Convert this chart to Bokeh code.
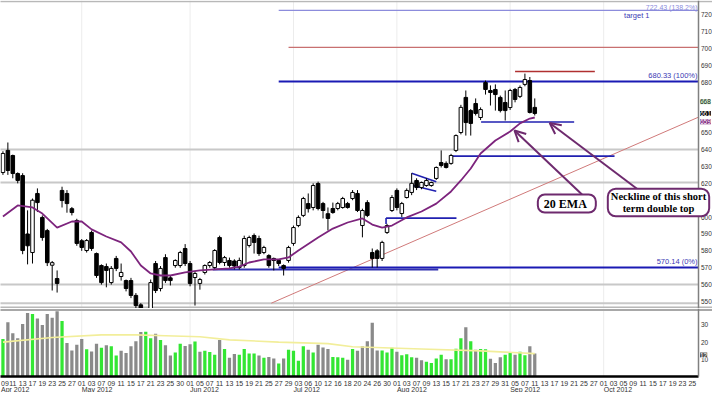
from bokeh.plotting import figure
from bokeh.layouts import column
from bokeh.models import Range1d, Label, Arrow, OpenHead
from bokeh.embed import file_html
from bokeh.resources import INLINE
from bokeh.core.properties import value

# ---------------- data ----------------
opens = [626.4, 639.5, 636.5, 625.8, 624.6, 590.0, 579.0, 614.0, 599.8, 592.0,
         571.5, 563.6, 615.8, 614.0, 605.0, 598.0, 586.0, 580.2, 590.9, 578.4,
         571.3, 570.7, 561.2, 575.5, 564.8, 562.4, 562.4, 553.6, 548.0, 545.0,
         545.0, 572.5, 557.7, 576.0, 564.0, 571.3, 571.3, 581.4, 572.5, 564.2,
         560.7, 567.2, 571.3, 570.1, 587.9, 573.1, 574.3, 574.0, 570.1, 571.3,
         583.2, 589.1, 587.3, 579.0, 577.2, 575.5, 574.3, 571.3, 574.3, 584.4,
         595.0, 601.0, 608.0, 605.7, 619.9, 608.0, 602.0, 605.1, 605.1, 605.7,
         608.0, 611.0, 614.0, 595.0, 608.6, 579.0, 580.0, 575.5, 590.9, 603.9,
         615.8, 602.1, 611.6, 614.6, 621.7, 617.5, 618.7, 618.7, 622.9, 632.3,
         631.8, 631.8, 639.5, 650.1, 670.9, 663.1, 667.3, 659.0, 679.7, 675.0,
         675.6, 670.9, 667.9, 664.9, 675.6, 671.5, 678.6, 680.9, 665.0]
highs = [639.0, 644.2, 637.0, 626.5, 626.0, 604.0, 611.0, 617.0, 601.0, 593.0,
         574.0, 568.4, 618.0, 616.0, 606.0, 599.0, 587.0, 587.0, 592.0, 579.0,
         572.0, 572.5, 571.0, 577.0, 572.5, 563.0, 564.0, 555.0, 549.0, 546.0,
         563.0, 574.0, 571.0, 578.0, 565.4, 575.0, 580.0, 584.0, 574.0, 568.0,
         564.0, 572.0, 574.0, 581.0, 589.0, 577.0, 576.0, 575.0, 576.0, 589.0,
         589.0, 590.3, 589.0, 583.0, 578.0, 576.0, 575.0, 572.0, 583.0, 595.0,
         601.0, 612.0, 614.0, 620.0, 621.0, 609.0, 605.7, 608.6, 609.0, 612.0,
         609.0, 616.0, 616.0, 605.0, 610.0, 581.4, 581.0, 586.0, 596.0, 613.0,
         617.0, 609.0, 617.0, 626.0, 623.0, 621.0, 623.0, 621.0, 630.0, 639.5,
         633.0, 637.5, 649.0, 666.5, 675.0, 664.0, 670.3, 665.0, 680.9, 678.0,
         678.6, 672.0, 675.0, 676.0, 676.5, 678.0, 685.0, 683.0, 670.3]
lows = [625.0, 625.0, 623.0, 620.0, 578.0, 572.0, 572.5, 603.0, 586.0, 571.0,
        556.5, 555.3, 605.7, 602.6, 601.0, 583.0, 580.0, 579.0, 580.0, 564.0,
        560.0, 558.4, 560.0, 568.0, 562.4, 556.0, 552.0, 546.0, 536.0, 535.0,
        543.0, 555.0, 556.0, 561.0, 559.5, 570.0, 570.0, 571.0, 559.0, 547.6,
        557.0, 566.0, 570.0, 569.0, 572.0, 571.0, 570.0, 569.0, 569.0, 570.0,
        582.0, 578.4, 577.0, 578.0, 570.0, 568.4, 571.0, 565.4, 573.0, 583.0,
        594.0, 600.0, 602.7, 604.0, 604.0, 599.2, 592.1, 602.0, 604.0, 605.0,
        605.0, 610.0, 603.0, 588.0, 600.0, 570.1, 570.14, 574.0, 590.0, 603.0,
        604.0, 600.0, 611.0, 613.0, 616.0, 616.5, 618.0, 618.0, 622.0, 629.4,
        628.8, 631.0, 638.5, 649.0, 648.3, 648.3, 660.2, 657.5, 672.6, 666.1,
        663.1, 662.0, 657.2, 663.5, 668.0, 670.5, 677.5, 661.4, 660.2]
closes = [637.7, 627.6, 625.8, 621.7, 580.2, 583.0, 610.0, 608.6, 587.9, 573.0,
          573.0, 560.7, 609.8, 608.0, 602.7, 584.4, 582.0, 586.1, 581.4, 565.4,
          561.2, 568.4, 569.6, 569.6, 567.2, 557.7, 553.6, 547.6, 540.0, 538.0,
          561.2, 556.5, 569.6, 562.4, 562.4, 574.3, 579.0, 572.5, 560.7, 566.6,
          563.0, 571.3, 573.1, 580.2, 573.1, 576.0, 571.3, 571.0, 574.3, 587.3,
          587.9, 585.0, 578.4, 582.0, 571.3, 574.3, 572.5, 569.6, 582.0, 593.8,
          599.8, 611.0, 605.0, 618.7, 605.1, 603.9, 599.2, 602.7, 608.0, 611.0,
          605.7, 614.6, 603.9, 603.9, 601.0, 575.5, 575.5, 585.0, 595.0, 611.6,
          605.7, 608.0, 615.8, 620.0, 617.5, 620.5, 621.7, 620.5, 629.4, 630.6,
          629.4, 636.5, 648.3, 665.0, 656.0, 655.5, 661.4, 663.7, 675.6, 673.8,
          672.6, 663.1, 663.1, 675.0, 669.7, 676.8, 681.5, 662.0, 661.4]

volumes = [21.8, 31.5, 25.1, 22.2, 30.5, 36.9, 36.4, 33.7, 30.0, 36.4,
           34.2, 37.9, 32.2, 19.5, 15.1, 18.5, 21.8, 15.8, 14.5, 19.1,
           16.7, 18.2, 17.6, 12.2, 14.9, 13.6, 17.6, 20.5, 25.8, 26.0,
           22.3, 24.9, 21.2, 18.2, 12.2, 14.0, 19.1, 17.8, 18.7, 20.4,
           14.4, 14.9, 14.2, 12.7, 21.2, 16.0, 10.9, 13.1, 12.7, 16.0,
           13.3, 13.3, 12.2, 10.9, 11.4, 10.5, 7.6, 10.5, 15.5, 14.9,
           9.1, 17.6, 15.5, 14.0, 18.5, 16.8, 16.0, 11.4, 11.2, 10.9,
           9.7, 16.0, 14.9, 17.6, 20.5, 31.3, 15.1, 15.1, 14.0, 16.7,
           14.4, 12.4, 12.9, 11.2, 10.9, 9.5, 8.6, 7.8, 10.5, 12.7,
           10.0, 10.0, 16.2, 22.3, 28.7, 20.5, 15.5, 16.0, 15.8, 10.3,
           7.8, 11.2, 12.6, 13.6, 12.6, 14.4, 12.4, 17.6, 13.3]
vol_green = [1, 0, 0, 0, 0, 0, 1, 0, 0, 0,
             0, 0, 1, 0, 0, 0, 0, 1, 0, 0,
             1, 0, 1, 1, 0, 0, 0, 0, 0, 1,
             1, 0, 1, 0, 0, 1, 1, 0, 0, 1,
             0, 1, 1, 1, 0, 1, 0, 0, 1, 1,
             1, 1, 0, 1, 0, 0, 1, 0, 1, 1,
             1, 1, 0, 1, 0, 0, 0, 1, 1, 1,
             0, 1, 0, 0, 0, 0, 0, 1, 1, 1,
             0, 1, 1, 1, 0, 0, 1, 1, 1, 1,
             0, 1, 1, 1, 0, 1, 0, 1, 1, 0,
             0, 0, 1, 1, 0, 1, 1, 0, 0]

vol_ma_x = [0, 10, 20, 27, 33, 40, 46, 56, 66, 71, 85, 97, 108]
vol_ma_y = [20.0, 22.7, 24.2, 24.2, 23.7, 23.1, 21.3, 20.0, 19.1, 17.3, 16.0, 14.9, 13.3]

ema_x = [0, 3, 6, 8, 11, 14, 16, 18, 21, 24, 26, 28, 30, 32, 34, 37, 40, 43, 46, 48,
         50, 53, 56, 58, 60, 64, 67, 70, 73, 75, 77, 79, 82, 85, 88, 91, 93, 95, 97,
         100, 103, 105, 107, 108]
ema_y = [600.3, 606.9, 605.7, 602.1, 593.8, 597.4, 597.4, 592.7, 588.5, 585.0, 579.6,
         571.3, 566.6, 565.4, 565.4, 567.2, 568.4, 569.0, 569.6, 570.7, 573.1, 574.9,
         574.9, 576.1, 580.2, 587.9, 593.2, 596.8, 599.2, 595.6, 593.8, 595.0, 599.8,
         603.3, 608.0, 615.2, 621.7, 628.8, 637.7, 645.4, 650.7, 655.5, 658.4, 659.0]

day_ticks = list(range(0, 141, 2))
day_labels = ["09", "11", "13", "17", "19", "23", "25", "27",
              "01", "03", "07", "09", "11", "15", "17", "21", "23", "25", "30",
              "01", "05", "07", "11", "13", "15", "19", "21", "25", "27", "29",
              "03", "06", "10", "12", "16", "18", "20", "24", "26", "30",
              "01", "03", "07", "09", "13", "15", "17", "21", "23", "27", "29", "31",
              "05", "07", "11", "13", "17", "19", "21", "25", "27",
              "01", "03", "05", "09", "11", "15", "17", "19", "23", "25"]
month_ticks = [-5, 16, 38, 59, 80, 103, 122]
month_labels = ["Apr 2012", "May 2012", "Jun 2012", "Jul 2012", "Aug 2012", "Sep 2012", "Oct 2012"]

price_ticks = [720, 710, 700, 690, 680, 650, 640, 630, 620, 600, 590, 580, 570, 560, 550]
vol_ticks = [30, 20, 10]
grey_levels = [640.0, 620.5, 560.0, 549.0]
marker_green = 668.4

# drawn study lines
fib_top = 722.43
fib_100 = 680.33
fib_0 = 570.14
red_level = 700.5
short_red = 686.3
neck_level = 656.3
mid_level = 636.1
low_level = 599.4
base_level = 569.0
trend_x = [54.5, 141.25]
trend_y = [549.0, 659.2]
pen_up_x, pen_up_y = [83.0, 88.0], [626.0, 620.9]
pen_lo_x, pen_lo_y = [82.6, 88.0], [619.2, 615.3]

# ---------------- layout constants (pixels of the reference) ----------------
X0, DX = 2.5, 5.03            # x of trading day 0, px per trading day
Y680, PY = 81.0, 1.688        # y of 680.33, px per dollar
SX = 698.0 / 713.0            # horizontal squeeze so the right scale fits
VY0, VPY = 376.0, 1.72        # volume zero line and px per unit (own figure coords)

def ix(px):                   # reference x pixel -> trading-day index
    return (px - X0) / DX

def fx(px):                   # own x pixel -> trading-day index
    return ix(px / SX)

def pr(py):                   # y pixel -> price
    return fib_100 - (py - Y680) / PY

def vv(py):                   # y pixel -> volume
    return (VY0 - py) / VPY

XR = Range1d(ix(0), fx(712))
XE = ix(713)                  # right edge of the chart body
SANS = value("Liberation Sans")
SERIF = "Liberation Serif"
PURPLE = "#6e2a6e"

def panel(height, yr):
    f = figure(width=712, height=height, x_range=XR, y_range=yr,
               output_backend="svg", toolbar_location=None,
               x_axis_location=None, y_axis_location=None,
               min_border_left=0, min_border_right=0, min_border_top=0, min_border_bottom=0)
    f.grid.visible = False
    f.outline_line_color = None
    f.background_fill_color = "white"
    f.border_fill_color = "white"
    return f

p = panel(308, Range1d(pr(308), pr(0)))

for m in month_ticks[1:]:
    p.segment([m], [pr(308)], [m], [pr(0)], line_color="#ececec", line_width=1)
p.segment([ix(-5)] * len(grey_levels), grey_levels, [XE] * len(grey_levels), grey_levels,
          line_color="#c8c8c8", line_width=2)
p.segment([ix(-5)], [pr(1)], [fx(713)], [pr(1)], line_color="#b8b8b8", line_width=1.5)
p.segment([ix(-5)], [pr(307)], [fx(713)], [pr(307)], line_color="#b8b8b8", line_width=2)

p.line(trend_x, trend_y, line_color="#d07a7a", line_width=1)

p.segment([56.0], [fib_top], [XE], [fib_top], line_color="#8c8cdc", line_width=1.2)
p.segment([58.0], [red_level], [XE], [red_level], line_color="#c87070", line_width=1.2)
p.segment([104.0], [short_red], [120.2], [short_red], line_color="#b03030", line_width=1.5)
p.segment([56.0], [fib_100], [XE], [fib_100], line_color="#1a1ab4", line_width=2)
p.segment([56.0], [fib_0], [XE], [fib_0], line_color="#1a1ab4", line_width=2)
p.segment([42.6], [base_level], [88.4], [base_level], line_color="#3030b0", line_width=2)
p.segment([97.1, 91.0, 77.8], [neck_level, mid_level, low_level],
          [116.0, 124.2, 92.1], [neck_level, mid_level, low_level],
          line_color="#2020b0", line_width=1.6)
p.segment([77.8], [low_level], [77.8], [low_level - 3.5], line_color="#2020b0", line_width=1.6)
p.line(pen_up_x, pen_up_y, line_color="#2020b0", line_width=1.6)
p.line(pen_lo_x, pen_lo_y, line_color="#2020b0", line_width=1.6)

idx = list(range(len(opens)))
p.segment(idx, highs, idx, lows, line_color="black", line_width=1)
p.vbar(x=idx, bottom=[min(o, c) for o, c in zip(opens, closes)],
       top=[max(o, c) for o, c in zip(opens, closes)], width=0.72,
       fill_color=["white" if c >= o else "black" for o, c in zip(opens, closes)],
       line_color="black", line_width=1)

p.line(ema_x, ema_y, line_color="#7d247d", line_width=1.8)

p.text(x=[ix(712)], y=[pr(10.5)], text=["722.43 (138.2%)"], text_align="right",
       text_font=SANS, text_font_size="7px", text_color="#8c8cdc")
p.text(x=[ix(637)], y=[pr(19)], text=["target 1"], text_align="left",
       text_font=SANS, text_font_size="7.5px", text_color="#3a3ab4")
p.text(x=[ix(712)], y=[pr(79.5)], text=["680.33 (100%)"], text_align="right",
       text_font=SANS, text_font_size="7.5px", text_color="#3a3ab4")
p.text(x=[ix(712)], y=[pr(265.5)], text=["570.14 (0%)"], text_align="right",
       text_font=SANS, text_font_size="7.5px", text_color="#3a3ab4")

p.add_layout(Arrow(x_start=ix(594), y_start=pr(194), x_end=ix(525), y_end=pr(130),
                   line_color=PURPLE, line_width=2,
                   end=OpenHead(size=11, line_color=PURPLE, line_width=2)))
p.add_layout(Arrow(x_start=ix(662), y_start=pr(197), x_end=ix(561), y_end=pr(122.5),
                   line_color=PURPLE, line_width=2,
                   end=OpenHead(size=11, line_color=PURPLE, line_width=2)))

# right border and price scale
p.segment([XE], [pr(308)], [XE], [pr(0)], line_color="#808080", line_width=1.5)
p.text(x=[fx(700.5)] * len(price_ticks), y=price_ticks, text=[str(t) for t in price_ticks],
       text_baseline="middle", text_font=SANS, text_font_size="6.5px", text_color="#333333")
p.add_layout(Label(x=fx(699.5), y=marker_green, text=str(int(marker_green)), text_baseline="middle",
                   text_font="Liberation Sans", text_font_size="6.5px", text_color="#202020",
                   background_fill_color="#c8ecc8"))
p.add_layout(Label(x=fx(699.5), y=closes[-1], text=str(int(closes[-1])), text_baseline="middle",
                   text_font="Liberation Sans", text_font_size="6.5px", text_color="white",
                   background_fill_color="black"))
p.add_layout(Label(x=fx(699.5), y=ema_y[-1] - 2.5, text=str(int(ema_y[-1])), text_baseline="middle",
                   text_font="Liberation Sans", text_font_size="6.5px", text_color="white",
                   background_fill_color="#7d247d"))

# callouts (drawn last, on top)
p.add_layout(Label(x=ix(578.5), y=pr(203), text="20  EMA", text_align="center",
                   text_baseline="middle", text_font=SERIF, text_font_style="bold",
                   text_font_size="12px", text_color="black",
                   background_fill_color="white", border_line_color=PURPLE,
                   border_line_width=2, border_radius=7,
                   padding=dict(left=6, right=6, top=2, bottom=2)))
p.add_layout(Label(x=fx(658), y=pr(202), text="Neckline of this short\nterm double top",
                   text_align="center", text_baseline="middle", text_font=SERIF,
                   text_font_style="bold", text_font_size="10.5px", text_color="black",
                   text_line_height=1.15,
                   background_fill_color="white", border_line_color=PURPLE,
                   border_line_width=2, border_radius=8,
                   padding=dict(left=3, right=3, top=2, bottom=2)))

# ---------------- volume panel ----------------
v = panel(84, Range1d(vv(392), vv(308)))

for m in month_ticks[1:]:
    v.segment([m], [0], [m], [vv(308)], line_color="#ececec", line_width=1)
v.segment([ix(-5)], [vv(309.5)], [fx(713)], [vv(309.5)], line_color="#a8a8a8", line_width=2)

v.vbar(x=idx, top=volumes, bottom=0, width=0.66,
       fill_color=["#33e633" if g else "#8a8a8a" for g in vol_green], line_color=None)
v.line(vol_ma_x, vol_ma_y, line_color="#f2ee9a", line_width=1.6)

v.segment([ix(-5)], [0], [XE], [0], line_color="black", line_width=2.5)
v.segment([XE], [0], [XE], [vv(308)], line_color="#808080", line_width=1.5)

day_x = [fx(0.5)] + day_ticks[1:]
day_align = ["left"] + ["center"] * (len(day_ticks) - 1)
v.text(x=day_x, y=[vv(383)] * len(day_ticks), text=day_labels, text_align=day_align,
       text_baseline="alphabetic", text_font=SANS, text_font_size="7px", text_color="#333333")
month_x = [fx(0.5)] + month_ticks[1:]
v.text(x=month_x, y=[vv(389.3)] * len(month_ticks), text=month_labels, text_align="left",
       text_baseline="alphabetic", text_font=SANS, text_font_size="7px", text_color="#333333")

v.text(x=[fx(700.5)] * len(vol_ticks), y=vol_ticks, text=[str(t) for t in vol_ticks],
       text_baseline="middle", text_font=SANS, text_font_size="6.5px", text_color="#333333")
v.add_layout(Label(x=fx(699.5), y=volumes[-1] - 0.8, text=str(int(volumes[-1] - 0.8)),
                   text_baseline="middle", text_font="Liberation Sans", text_font_size="6.5px",
                   text_color="white", background_fill_color="#555555"))

layout = column(p, v, spacing=0)
open("out.html", "w").write(file_html(layout, INLINE))
